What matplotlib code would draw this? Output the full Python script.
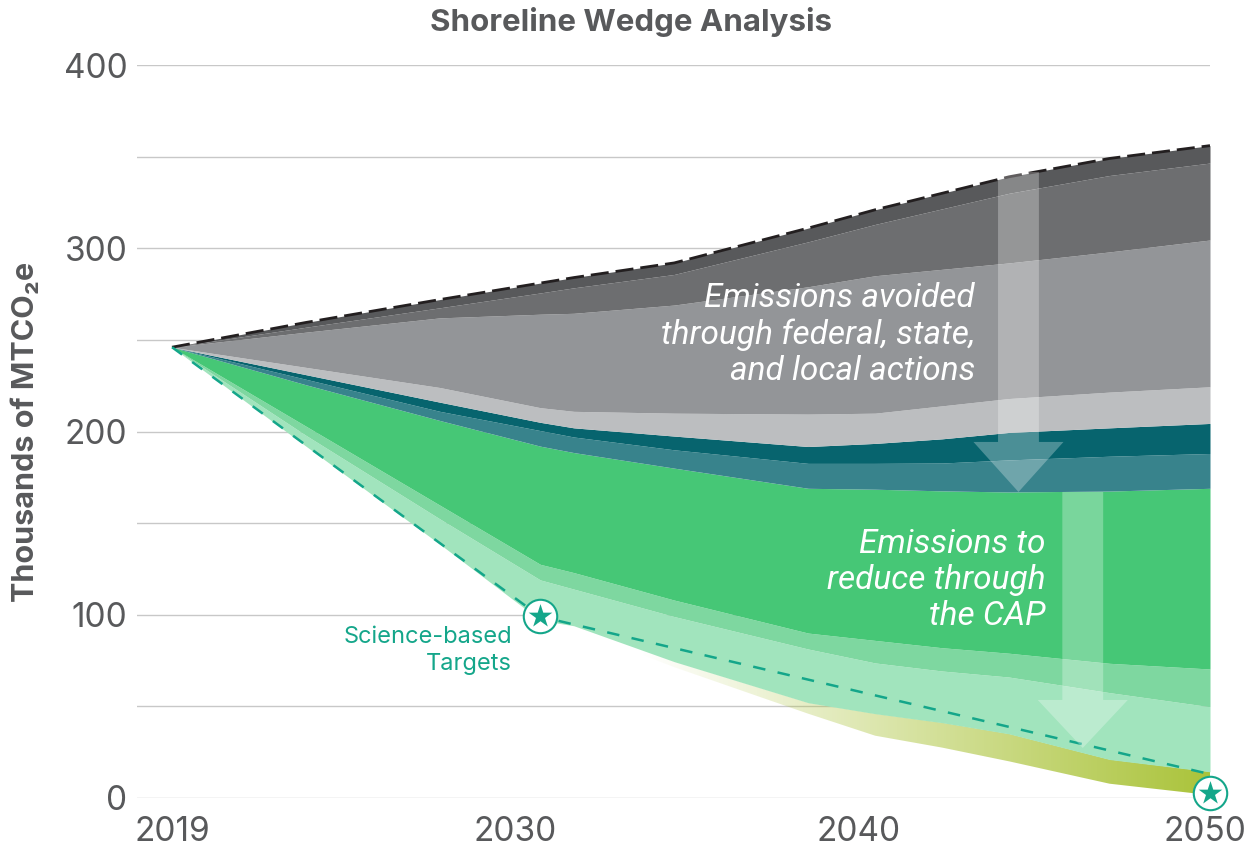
import numpy as np
import matplotlib
matplotlib.use('Agg')
import matplotlib.pyplot as plt
from matplotlib.patches import FancyArrow
from matplotlib.ticker import MultipleLocator

plt.rcParams['font.family'] = ['Inter', 'DejaVu Sans']

# ---- data (thousands of MTCO2e) ----
years = [2019, 2023, 2027, 2030, 2031, 2034, 2038, 2040, 2042, 2044, 2047, 2050]
# lowest edge of the wedge stack
baseline = [246, 192, 138.5, 96, 92.5, 71.4, 46, 34, 27.5, 20, 7.8, 1.6]
# layers, bottom to top
remaining = [0, 0, 0, 1, 1.5, 3, 6, 12, 13.6, 15, 13.2, 12.7]
light_mint = [0, 5.9, 13.8, 22, 20, 24.6, 29.3, 27.7, 28.2, 31, 36.5, 35.5]
mid_mint = [0, 5, 7.5, 8.5, 9, 9, 8.7, 12.3, 12.7, 13, 16, 20.6]
green = [0, 22.6, 46.2, 64.5, 65.5, 72, 79, 82.5, 85.6, 88, 94, 98.6]
teal = [0, 3, 5, 8.5, 8.5, 10, 13.6, 14.1, 15.2, 17.5, 19, 19]
dark_teal = [0, 2.5, 5, 4.5, 5, 7.5, 9.2, 10.9, 13.2, 15, 15.5, 16.4]
light_gray = [0, 4, 8, 8, 9, 12.5, 17.7, 16.5, 18, 18.5, 19.5, 20]
mid_gray = [0, 19.2, 38, 51, 53.5, 59, 69.5, 75, 74.5, 74, 76.5, 80.1]
dark_gray = [0, 2.7, 5.5, 11.6, 13.9, 16.7, 24.5, 28, 33, 38, 41.7, 42]
darkest_gray = [0, 2.6, 4.5, 5.4, 5.6, 6.3, 7.5, 8, 8.5, 9, 9.3, 9.5]

sbt_years = [2019, 2030, 2050]
sbt_values = [246, 99, 13]
star_years = [2030, 2050]
star_values = [99.5, 2.5]

x_ticks = [2019, 2029.25, 2039.5, 2049.85]
x_labels = ['2019', '2030', '2040', '2050']
y_ticks = [0, 100, 200, 300, 400]

layers = [light_mint, mid_mint, green, teal, dark_teal,
          light_gray, mid_gray, dark_gray, darkest_gray]
colors = ['#a1e4bd', '#7ed7a0', '#46c776', '#38838c', '#07646e',
          '#bcbec0', '#939598', '#6d6e70', '#58595b']

text_gray = '#58595b'
sbt_color = '#14a68a'

fig = plt.figure(figsize=(12.49, 8.52), dpi=100)
ax = fig.add_axes([137 / 1249, 54 / 852, 1073 / 1249, 733 / 852])

x = np.array(years, dtype=float)
base = np.array(baseline, dtype=float)

# yellow-green band with a left-to-right fade
top = base + np.array(remaining)
band = ax.fill_between(x, base, top, color='none', lw=0)
xs = np.linspace(2019, 2050, 400)
alpha = np.clip((xs - 2033) / 17, 0, 1)
grad = np.zeros((2, len(xs), 4))
grad[..., 0] = 0.667
grad[..., 1] = 0.765
grad[..., 2] = 0.227
grad[..., 3] = alpha
im = ax.imshow(grad, extent=[2019, 2050, 0, 400], aspect='auto',
               origin='lower', zorder=2, interpolation='bilinear')
im.set_clip_path(band.get_paths()[0], ax.transData)

# stacked wedges
lower = top
for vals, c in zip(layers, colors):
    upper = lower + np.array(vals)
    ax.fill_between(x, lower, upper, color=c, lw=0, zorder=3)
    lower = upper

# business-as-usual top line
ax.plot(x, lower, color='#231f20', lw=2, ls=(0, (6.5, 2.5)), zorder=5)

# science-based targets
ax.plot(sbt_years, sbt_values, color=sbt_color, lw=1.8, ls=(0, (5, 5)), zorder=5)
ax.scatter(star_years, star_values, s=580, facecolor='white', edgecolor=sbt_color,
           lw=1.5, zorder=8, clip_on=False)
ax.scatter(star_years, star_values, s=320, marker='*', color=sbt_color,
           lw=0, zorder=9, clip_on=False)
ax.text(2029.16, 80.5, 'Science-based\nTargets', color=sbt_color, fontsize=17,
        ha='right', va='center', multialignment='right', linespacing=1.25, zorder=9)

# arrows
ax.add_patch(FancyArrow(2044.28, 341.6, 0, -174.6, width=1.22, head_width=2.69,
                        head_length=27.3, length_includes_head=True,
                        color='white', alpha=0.28, lw=0, zorder=6))
ax.add_patch(FancyArrow(2046.2, 167, 0, -139.7, width=1.22, head_width=2.69,
                        head_length=26.2, length_includes_head=True,
                        color='white', alpha=0.28, lw=0, zorder=6))

ax.text(2042.98, 252.7, 'Emissions avoided\nthrough federal, state,\nand local actions',
        family='Roboto', style='italic', fontsize=24, color='white', ha='right',
        va='center', multialignment='right', linespacing=1.17, zorder=7)
ax.text(2045.08, 119, 'Emissions to\nreduce through\nthe CAP',
        family='Roboto', style='italic', fontsize=24, color='white', ha='right',
        va='center', multialignment='right', linespacing=1.17, zorder=7)

# axes styling
ax.set_xlim(2019 - 35 / 33.48, 2050)
ax.set_ylim(0, 400)
ax.set_yticks(y_ticks)
ax.yaxis.set_minor_locator(MultipleLocator(50))
ax.set_xticks(x_ticks)
ax.set_xticklabels(x_labels)
ax.grid(axis='y', which='both', color='#c8c8c8', lw=1)
ax.set_axisbelow(True)
for s in ax.spines.values():
    s.set_visible(False)
ax.tick_params(axis='both', which='both', length=0, labelsize=24, colors=text_gray)
ax.tick_params(axis='y', pad=7)
ax.tick_params(axis='x', pad=13)

ax.set_ylabel('Thousands of MTCO\u2082e', fontsize=22, fontweight='bold', color=text_gray)
ax.yaxis.set_label_coords(-0.09, 0.5)
fig.text(0.505, 1 - 22 / 852, 'Shoreline Wedge Analysis', fontsize=22.5,
         fontweight='bold', color=text_gray, ha='center', va='center')

fig.savefig('out.png', dpi=100)
